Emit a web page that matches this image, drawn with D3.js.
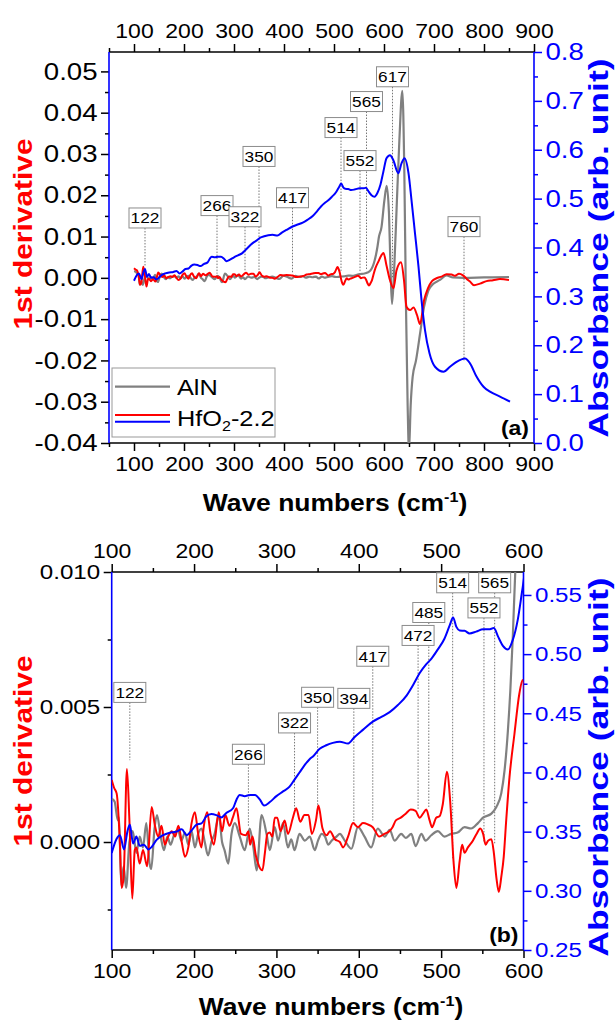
<!DOCTYPE html>
<html>
<head>
<meta charset="utf-8">
<script src="https://cdn.jsdelivr.net/npm/d3@7"></script>
<style>
  body { margin: 0; background: #fff; }
  text { font-family: "Liberation Sans", Arial, sans-serif; }
</style>
</head>
<body>
<svg id="chart" width="615" height="1032"></svg>
<script>
// ---------- Spectra (wave number in cm^-1) ----------
// AlN: first derivative of the absorbance
const alnWave = [100,103.5,107.5,109,111.5,114.5,117.5,121.5,125.5,130,134,138,142,146,148,152,155,159.5,163.5,167.5,171.5,176,180.5,184.5,189,193,197,201,205,209,213,217,221,225,230,234,237,241.5,245.5,249.5,255.5,261.5,267.5,272,276,282,288,292,298,302,308,314,318,322,328,334.5,340.5,346.5,350.5,355,359,363,367,373,377,383,391,399,407,415,423,431.5,437.5,443.5,451.5,457,463.8,469,476,481,488,496,504,512,520,528.5,536.5,544.7,550.8,561,567,573,577,581,584,587,590,595,600.7,605.3,610,613.3,616,620,625.3,630.7,636.7,640.7,644,647.3,650,653.3,657.3,664,672,680,688.7,698.7,712,725,738,760,800,850];
const alnDeriv = [0.0016,0.0015,0.0008,0.0009,-0.0016,-0.0009,-0.0017,0.0000,0.0004,-0.0004,0.0002,-0.0002,0.0007,-0.0008,-0.0010,0.0005,0.0010,0.0002,-0.0003,0.0002,-0.0001,0.0003,0.00045,0.00005,0.00035,-0.0001,0.0004,-0.0002,0.0003,0.0005,0.0000,-0.0005,0.0000,0.0003,0.0010,0.0000,-0.0003,-0.0008,0.0003,0.0007,0.0002,-0.0003,0.0005,-0.0002,-0.00105,0.0010,0.0003,-0.0003,0.00055,0.00005,0.0007,-0.0002,0.0001,-0.0003,0.0003,0.00005,0.0002,-0.0003,0.00005,0.0003,0.0002,-0.0001,0.00005,0.0002,0.0003,0.00005,-0.00025,0.00055,0.0002,-0.0002,0.0005,0.0002,0.00045,0.00005,0.0003,0.00015,0.0003,-0.00015,0.0003,0.00005,0.00025,0.0004,0.0002,0.0003,0.00035,0.00055,0.0005,0.0007,0.0009,0.00105,0.0013,0.0018,0.00265,0.0041,0.0056,0.0076,0.0100,0.0123,0.0187,0.0223,0.0155,0.0010,-0.0063,0.0010,0.0171,0.0332,0.0453,0.0252,-0.0071,-0.0310,-0.0420,-0.0310,-0.0240,-0.0200,-0.0136,-0.0071,-0.0031,-0.00145,-0.0005,0.0006,0.0001,0.0000,0.0001,0.0002];

// HfO2-2.2: first derivative of the absorbance
const hfWave = [100,103,106,110,112,114.5,118.5,121.5,125,128,130,134,138,143,148.5,152.5,156.5,160.5,164.5,168.5,173,177,181,185,189,193,197,201,205,209,211.5,216,220,224,230,234,238,243,247,251.5,257,263,266,268,271,275,279,283,286,289,292,295,298,301,305,310,314,320,324,329,334,339,343,348,351,356,361,365,371,377,381,387,393,399,405,411,417,425,431,437,441,445,451,457,463,469,474,478,482,486,489,494,498,502,507,511,515,518.5,522.5,525.5,528.5,532.5,538.5,543,547.5,551,554,557,561,564,567,570,573,576,579,583,589,595,599,605,612,619,625,634,640,645,652,659,666,672,680,688,696,705,715,725,735,742,750,758,765,772,780,792,805,818,832,850];
const hfDeriv = [0.0023,0.0020,0.0018,-0.0001,-0.0017,-0.0013,0.0027,0.0008,-0.0021,-0.0003,-0.0002,-0.0008,-0.0003,-0.0009,0.0013,0.0006,0.0002,0.0006,-0.0001,0.0002,0.0004,0.0002,0.0006,0.0000,-0.00055,-0.0002,0.0007,0.0011,0.0003,-0.0002,0.0005,0.0011,0.0003,-0.0001,0.0011,0.0004,0.0010,0.0006,0.0009,0.00125,0.0003,0.00025,0.0004,-0.0001,0.0002,-0.0005,-0.0009,-0.00105,-0.0004,0.0003,0.00035,0.0002,0.0009,0.0009,0.0004,0.0008,0.0003,0.0009,0.00125,0.00075,0.0010,0.0010,0.0003,0.0008,0.00135,0.0005,0.00025,0.0004,0.0001,0.0000,-0.0002,0.0002,0.0007,0.00055,0.0007,0.00065,0.00055,0.0002,0.0003,0.0004,0.00055,0.0008,0.0009,0.00105,0.0012,0.00115,0.0009,0.00105,0.0012,0.0008,0.00055,0.0009,0.00095,0.0014,0.0026,0.0015,-0.0007,-0.0017,-0.0007,-0.0001,-0.0004,-0.0002,0.00005,0.0003,0.0005,0.0003,-0.0001,0.00005,0.0001,-0.0004,-0.0013,-0.00185,-0.0013,-0.00055,0.0008,0.0024,0.0040,0.0055,0.0060,0.0030,-0.0006,-0.0025,0.0018,0.0038,-0.0006,-0.0070,-0.0078,-0.0072,-0.0090,-0.0112,-0.0055,-0.0025,-0.0008,-0.0001,0.0003,0.0009,0.0008,0.0005,0.0010,0.0006,-0.0002,-0.0009,-0.0018,-0.0014,-0.0008,-0.0006,-0.0003,-0.0005];

// HfO2-2.2: absorbance (arb. unit)
const absWave = [100,106,110,115,119,122,126,130,134,139,144.5,148.5,154.5,162.5,170.5,178.5,185,191,197,203,209,215,221,227,233,239.5,247.5,251.5,255.5,261.5,268,274,280,285,292,300,308,316,322,328,334,340,345,352.5,360.5,368.5,377,387,395,405,417,427.5,437.5,447.5,458,466,474,482,488,496,504,510.5,514.5,518.5,522.5,528.5,534.5,542.5,551,558,564,569,575,581,587,593,598.5,605,612,618.5,628.5,635,641,649,655,662,669,675,682,691,702,719,732,745,762,772,785,799,812,832,852];
const absValue = [0.332,0.344,0.347,0.335,0.350,0.356,0.340,0.346,0.338,0.339,0.335,0.337,0.343,0.347,0.349,0.350,0.352,0.347,0.351,0.356,0.357,0.363,0.365,0.364,0.362,0.366,0.370,0.377,0.381,0.380,0.381,0.381,0.377,0.372,0.375,0.380,0.384,0.388,0.394,0.400,0.406,0.411,0.414,0.420,0.423,0.425,0.426,0.4245,0.430,0.436,0.443,0.447,0.451,0.457,0.465,0.474,0.484,0.4915,0.496,0.504,0.513,0.5245,0.531,0.523,0.520,0.5197,0.5175,0.519,0.521,0.521,0.522,0.515,0.507,0.504,0.512,0.529,0.554,0.5825,0.589,0.579,0.552,0.572,0.5825,0.552,0.497,0.429,0.361,0.293,0.231,0.1835,0.156,0.146,0.156,0.166,0.173,0.163,0.136,0.115,0.105,0.095,0.0845];

// ---------- Axis ticks ----------
const ticksWaveA = [100,200,300,400,500,600,700,800,900];
const ticksDerivA = [-0.04,-0.03,-0.02,-0.01,0.00,0.01,0.02,0.03,0.04,0.05];
const ticksAbsA = [0.0,0.1,0.2,0.3,0.4,0.5,0.6,0.7,0.8];
const ticksWaveB = [100,200,300,400,500,600];
const ticksDerivB = [0.000,0.005,0.010];
const ticksAbsB = [0.25,0.30,0.35,0.40,0.45,0.50,0.55];

// ---------- Marked bands ----------
const peaksA = [122,266,322,350,417,514,552,565,617,760];
const peaksALabelAt = [0.0145,0.0175,0.0148,0.0294,0.0194,0.0364,0.0284,0.0427,0.0487,0.0124];
const peaksALineTo = [0.0026,0.0010,0.0018,0.0010,0.0010,0.0017,0.0014,0.0018,0.0000,-0.0200];
const peaksB = [122,266,322,350,394,417,472,485,514,552,565];
const peaksBLabelAt = [0.00554,0.00325,0.00441,0.00536,0.00532,0.00688,0.00765,0.00850,0.00960,0.00867,0.00960];
const peaksBLineTo = [0.00303,0.00056,0.00105,0.00099,0.00068,0.00080,0.00117,0.00125,-0.00060,0.00000,-0.00010];

// ---------- Drawing ----------
const svg = d3.select("#chart");
const STRETCH = 1.15;          // glyphs are drawn slightly wide along the line of text
const GRAY = "#808080", RED = "#ff0000", BLUE = "#0000ff";

const panels = [
  { id: "a", l: 109, r: 534, t: 52, b: 443,
    xDom: [50, 900], lDom: [-0.04, 0.0547], rDom: [0, 0.8],
    xTicks: ticksWaveA, lTicks: ticksDerivA, rTicks: ticksAbsA,
    lFmt: v => v.toFixed(2), rFmt: v => v.toFixed(1), yFont: 24,
    peaks: peaksA, peakLabel: peaksALabelAt, peakLine: peaksALineTo,
    tag: "(a)", titleX: 335, titleY: 511, leftMid: 234, rightMid: 248, legend: true },
  { id: "b", l: 111.7, r: 523.5, t: 572, b: 950,
    xDom: [100, 600], lDom: [-0.004, 0.010], rDom: [0.25, 0.5694],
    xTicks: ticksWaveB, lTicks: ticksDerivB, rTicks: ticksAbsB,
    lFmt: v => v.toFixed(3), rFmt: v => v.toFixed(2), yFont: 21,
    peaks: peaksB, peakLabel: peaksBLabelAt, peakLine: peaksBLineTo,
    tag: "(b)", titleX: 331, titleY: 1015, leftMid: 751, rightMid: 767, legend: false }
];

function minorOf(major, dom) {
  const step = major[1] - major[0];
  const out = d3.pairs(major).map(([a, b]) => (a + b) / 2);
  const lo = Math.min(dom[0], dom[1]), hi = Math.max(dom[0], dom[1]);
  if (major[0] - step / 2 >= lo - 1e-9) out.unshift(major[0] - step / 2);
  if (major[major.length - 1] + step / 2 <= hi + 1e-9) out.push(major[major.length - 1] + step / 2);
  return out;
}

function axisWithMinor(g, gen, scale, major, fmt, transform, color, pad, size) {
  const minor = minorOf(major, scale.domain());
  g.append("g").attr("transform", transform)
    .call(gen(scale).tickValues(minor).tickSize(4).tickSizeOuter(0).tickFormat(""))
    .call(s => s.select(".domain").remove())
    .call(s => s.selectAll("line").attr("stroke", color).attr("stroke-width", 1.5));
  const ga = g.append("g").attr("transform", transform)
    .call(gen(scale).tickValues(major).tickSize(8).tickSizeOuter(0).tickPadding(pad).tickFormat(fmt))
    .call(s => s.select(".domain").remove())
    .call(s => s.selectAll("line").attr("stroke", color).attr("stroke-width", 1.5));
  ga.selectAll("text")
    .attr("fill", color)
    .style("font-size", size + "px")
    .style("font-family", '"Liberation Sans", Arial, sans-serif')
    .attr("transform", `scale(${STRETCH},1)`);
  return ga;
}

function stretchedText(parent, x, y, opts) {
  const rot = opts.rotate ? "rotate(-90) " : "";
  const k = opts.stretch || STRETCH;
  return parent.append("text")
    .attr("transform", `translate(${x},${y}) ${rot}scale(${k},1)`)
    .attr("text-anchor", opts.anchor || "middle")
    .attr("fill", opts.color || "#000")
    .style("font-size", opts.size + "px")
    .style("font-weight", opts.bold ? "bold" : "normal");
}

panels.forEach(p => {
  const x = d3.scaleLinear().domain(p.xDom).range([p.l, p.r]);
  const yL = d3.scaleLinear().domain(p.lDom).range([p.b, p.t]);
  const yR = d3.scaleLinear().domain(p.rDom).range([p.b, p.t]);
  const g = svg.append("g").attr("class", "panel-" + p.id);

  const clipId = "clip-" + p.id;
  svg.append("clipPath").attr("id", clipId).append("rect")
    .attr("x", p.l).attr("y", p.t).attr("width", p.r - p.l).attr("height", p.b - p.t);

  // axes
  axisWithMinor(g, d3.axisTop, x, p.xTicks, d => d, `translate(0,${p.t})`, "#000", 6, 20);
  axisWithMinor(g, d3.axisBottom, x, p.xTicks, d => d, `translate(0,${p.b})`, "#000", 6, 20);
  axisWithMinor(g, d3.axisLeft, yL, p.lTicks, p.lFmt, `translate(${p.l},0)`, "#000", 2, p.yFont);
  axisWithMinor(g, d3.axisRight, yR, p.rTicks, p.rFmt, `translate(${p.r},0)`, BLUE, 2, p.yFont);

  // frame: black top/bottom, blue left/right
  g.append("line").attr("x1", p.l).attr("x2", p.r).attr("y1", p.t).attr("y2", p.t).attr("stroke", "#000").attr("stroke-width", 1.6);
  g.append("line").attr("x1", p.l).attr("x2", p.r).attr("y1", p.b).attr("y2", p.b).attr("stroke", "#000").attr("stroke-width", 1.6);
  g.append("line").attr("x1", p.l).attr("x2", p.l).attr("y1", p.t).attr("y2", p.b).attr("stroke", BLUE).attr("stroke-width", 1.6);
  g.append("line").attr("x1", p.r).attr("x2", p.r).attr("y1", p.t).attr("y2", p.b).attr("stroke", BLUE).attr("stroke-width", 1.6);

  // dotted guide lines of the marked bands
  const plot = g.append("g").attr("clip-path", `url(#${clipId})`);
  const annot = p.peaks.map((w, i) => ({ w, at: p.peakLabel[i], to: p.peakLine[i] }));
  const boxH = 20;
  plot.selectAll("line.guide").data(annot).join("line").attr("class", "guide")
    .attr("x1", d => x(d.w)).attr("x2", d => x(d.w))
    .attr("y1", d => yL(d.at) + boxH / 2).attr("y2", d => yL(d.to))
    .attr("stroke", "#777").attr("stroke-width", 1).attr("stroke-dasharray", "1.5,1.5");

  // spectra
  const lineL = d3.line().x(d => x(d[0])).y(d => yL(d[1])).curve(d3.curveMonotoneX);
  const lineR = d3.line().x(d => x(d[0])).y(d => yR(d[1])).curve(d3.curveMonotoneX);
  plot.append("path").datum(d3.zip(alnWave, alnDeriv)).attr("d", lineL)
    .attr("fill", "none").attr("stroke", GRAY).attr("stroke-width", 2.2);
  plot.append("path").datum(d3.zip(hfWave, hfDeriv)).attr("d", lineL)
    .attr("fill", "none").attr("stroke", RED).attr("stroke-width", 2);
  plot.append("path").datum(d3.zip(absWave, absValue)).attr("d", lineR)
    .attr("fill", "none").attr("stroke", BLUE).attr("stroke-width", 2);

  // band labels
  const lab = g.selectAll("g.band").data(annot).join("g").attr("class", "band")
    .attr("transform", d => `translate(${x(d.w)},${yL(d.at)})`);
  lab.append("rect").attr("x", -16).attr("y", -boxH / 2).attr("width", 32).attr("height", boxH)
    .attr("fill", "#fff").attr("stroke", "#8c8c8c").attr("stroke-width", 1);
  lab.append("text").attr("transform", `scale(${STRETCH},1)`).attr("text-anchor", "middle")
    .attr("dy", "0.36em").style("font-size", "15px").text(d => d.w);

  // panel tag
  stretchedText(g, p.r - 5, p.b - 8, { size: 20, bold: true, anchor: "end" }).text(p.tag);

  // axis titles
  const tt = stretchedText(svg, p.titleX, p.titleY, { size: 23, bold: true });
  tt.append("tspan").text("Wave numbers (cm");
  tt.append("tspan").attr("dy", -9).style("font-size", "14px").text("-1");
  tt.append("tspan").attr("dy", 9).text(")");

  stretchedText(svg, 32, p.leftMid, { size: 26, bold: true, rotate: true, color: RED }).text("1st derivative");
  stretchedText(svg, 608, p.rightMid, { size: 28, bold: true, rotate: true, color: BLUE, stretch: 1.27 }).text("Absorbance (arb. unit)");

  // legend
  if (p.legend) {
    const lg = g.append("g");
    lg.append("rect").attr("x", 112).attr("y", 368).attr("width", 163).attr("height", 69)
      .attr("fill", "#fff").attr("stroke", "#999").attr("stroke-width", 1);
    lg.append("line").attr("x1", 115).attr("x2", 170).attr("y1", 386.7).attr("y2", 386.7).attr("stroke", GRAY).attr("stroke-width", 2.2);
    lg.append("line").attr("x1", 115).attr("x2", 170).attr("y1", 415).attr("y2", 415).attr("stroke", RED).attr("stroke-width", 2);
    lg.append("line").attr("x1", 115).attr("x2", 170).attr("y1", 421.7).attr("y2", 421.7).attr("stroke", BLUE).attr("stroke-width", 2);
    stretchedText(lg, 177, 394.5, { size: 22, anchor: "start" }).text("AlN");
    const h = stretchedText(lg, 177, 426, { size: 22, anchor: "start" });
    h.append("tspan").text("HfO");
    h.append("tspan").attr("dy", 5).style("font-size", "14px").text("2");
    h.append("tspan").attr("dy", -5).text("-2.2");
  }
});
</script>
</body>
</html>
